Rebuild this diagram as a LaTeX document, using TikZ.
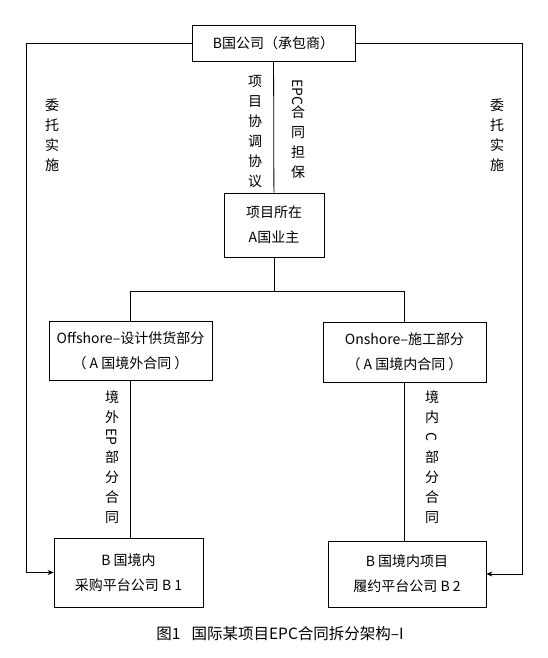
\documentclass[tikz,border=0pt]{standalone}
\usepackage{fontspec}
\newfontfamily\cjk{Noto Sans CJK SC}
\usetikzlibrary{arrows.meta}

\tikzset{
  box/.style={draw, line width=0.8pt, align=center, inner sep=0pt,
    font=\cjk\fontsize{14}{25}\selectfont},
  vlabel/.style={align=center, inner sep=0pt,
    font=\cjk\fontsize{14}{20}\selectfont},
  link/.style={line width=0.8pt},
  feed/.style={line width=0.8pt, -{Stealth[length=6pt,width=5pt]}}
}
% latin letters set sideways in a vertical label
\newcommand{\vlat}[2][10pt]{\raisebox{0pt}[#1][3pt]{\rotatebox[origin=c]{-90}{#2}}}

\begin{document}
\begin{tikzpicture}[x=1pt, y=-1pt]
\useasboundingbox (0,0) rectangle (547,658);

% boxes
\node[box, minimum width=163pt, minimum height=36pt] (contractor) at (273.5,43) {B国公司（承包商）};
\node[box, minimum width=100pt, minimum height=64pt] (owner) at (274,225) {项目所在\\A国业主};
\node[box, minimum width=163pt, minimum height=59pt] (offshore) at (130.5,350.5) {Offshore–设计供货部分\\（ A 国境外合同 ）};
\node[box, minimum width=163pt, minimum height=60pt] (onshore) at (404.5,352) {Onshore–施工部分\\（ A 国境内合同 ）};
\node[box, minimum width=149pt, minimum height=69pt] (bone) at (128.5,572.5) {B 国境内\\采购平台公司 B 1};
\node[box, minimum width=158pt, minimum height=66pt] (btwo) at (407,574) {B 国境内项目\\履约平台公司 B 2};

% tree
\coordinate (split) at (274,291);
\draw[link] (contractor) -- (owner);
\draw[link] (owner) -- (split);
\draw[link] (split) -| (offshore.north);
\draw[link] (split) -| (onshore.north);
\draw[link] (offshore.south) -- (offshore.south |- bone.north);
\draw[link] (onshore.south) -- (onshore.south |- btwo.north);

% entrusted implementation
\coordinate (lcorner) at (26,43);
\coordinate (rcorner) at (522,43);
\draw[feed] (contractor.west) -- (lcorner) |- (bone.west);
\draw[feed] (contractor.east) -- (rcorner) |- (btwo.east);

% labels
\node[vlabel] (coord) at (255,132) {项\\目\\协\\调\\协\\议};
\node[vlabel] (guar) at (298,131) {\vlat[14pt]{EPC}\\合\\同\\担\\保};
\node[vlabel] (entl) at (52,135) {委\\托\\实\\施};
\node[vlabel] (entr) at (497,135) {委\\托\\实\\施};
\node[vlabel] (epsub) at (112,457) {境\\外\\\vlat{EP}\\部\\分\\合\\同};
\node[vlabel] (csub) at (432,457) {境\\内\\\vlat{C}\\部\\分\\合\\同};

% caption
\node[font=\cjk\fontsize{15.5}{18}\selectfont, inner sep=0pt] (caption) at (280,634) {图1\enspace\ 国际某项目EPC合同拆分架构–I};
\end{tikzpicture}
\end{document}
